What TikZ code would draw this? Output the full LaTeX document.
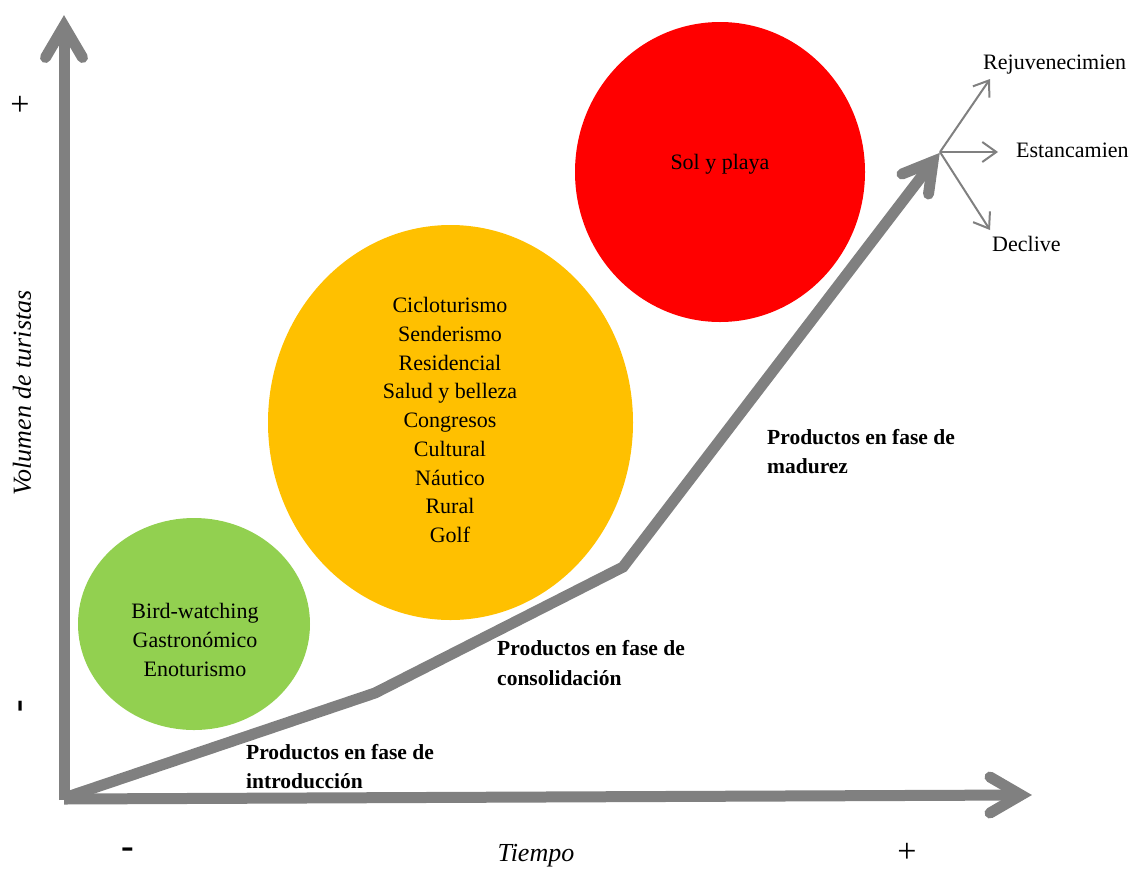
\documentclass[tikz,border=0pt]{standalone}
\usepackage{fontspec}
\setmainfont{Liberation Serif}
\usetikzlibrary{arrows.meta,shapes.geometric}
\definecolor{axisgray}{HTML}{808080}
\definecolor{cgreen}{HTML}{92D050}
\definecolor{corange}{HTML}{FFC000}
\definecolor{cred}{HTML}{FF0000}
\begin{document}
\begin{tikzpicture}[x=1pt,y=-1pt,
  shaft/.style={draw=axisgray, line width=11pt, line join=miter, line cap=butt},
  chevron/.style={draw=axisgray, line width=11pt, line join=miter, line cap=round},
  blob/.style={ellipse, draw=none, inner sep=0pt},
  itemtext/.style={align=center, font=\fontsize{22}{28.75}\selectfont, inner sep=0pt},
  phase/.style={anchor=base west, inner sep=0pt, font=\fontsize{21.5}{28}\selectfont\bfseries},
  branch/.style={draw=axisgray, line width=2pt, -{Straight Barb[length=14pt,width=20pt,line width=2pt]}},
  branchtext/.style={anchor=west, inner sep=0pt, font=\fontsize{22}{26}\selectfont},
  axislabel/.style={inner sep=0pt, font=\fontsize{26}{30}\selectfont\itshape},
  sign/.style={inner sep=0pt, font=\fontsize{34}{36}\selectfont},
  dashsign/.style={inner sep=0pt, font=\fontsize{38}{40}\selectfont\bfseries}]
\useasboundingbox (0,0) rectangle (1129,868);

% circles
\node[blob, fill=cgreen, minimum width=232pt, minimum height=212pt] (green) at (194,624) {};
\node[blob, fill=corange, minimum width=365pt, minimum height=395pt] (orange) at (450.5,422.5) {};
\node[blob, fill=cred, minimum width=290pt, minimum height=300pt] (red) at (720,172) {};

\node[itemtext] (gtext) at (195,640) {Bird-watching\\Gastronómico\\Enoturismo};
\node[itemtext] (otext) at (450,420) {Cicloturismo\\Senderismo\\Residencial\\Salud y belleza\\Congresos\\Cultural\\Náutico\\Rural\\Golf};
\node[itemtext] (rtext) at (720,164) {Sol y playa};

% axes
\coordinate (O) at (64,799);
\coordinate (Ybot) at (64,800);
\coordinate (Yv) at (64,26);
\coordinate (Yl) at (45.5,57.5);
\coordinate (Yr) at (82.5,57.5);
\coordinate (Xv) at (1021,795);
\coordinate (Xu) at (990,777);
\coordinate (Xd) at (990,813);
\draw[shaft] (Ybot) -- (Yv);
\draw[chevron] (Yl) -- (Yv) -- (Yr);
\draw[shaft] (O) -- (Xv);
\draw[chevron] (Xu) -- (Xv) -- (Xd);

% growth curve
\coordinate (G0) at (64,798);
\coordinate (G1) at (375,693);
\coordinate (G2) at (623,567);
\coordinate (Gv) at (933,161.5);
\coordinate (Gl) at (902,174);
\coordinate (Gr) at (928.5,194);
\draw[shaft] (G0) -- (G1) -- (G2) -- (Gv);
\draw[chevron] (Gl) -- (Gv) -- (Gr);

% branches
\coordinate (B) at (940,152);
\node[branchtext] (rej) at (983,65) {Rejuvenecimien};
\node[branchtext] (est) at (1016,150) {Estancamien};
\node[branchtext] (dec) at (992,244) {Declive};
\coordinate (Bu) at (990,79);
\coordinate (Bm) at (998,152);
\coordinate (Bd) at (990,230);
\draw[branch] (B) -- (Bu);
\draw[branch] (B) -- (Bm);
\draw[branch] (B) -- (Bd);

% phase labels
\node[phase] (p1a) at (246,759) {Productos en fase de};
\node[phase] (p1b) at (246,788) {introducción};
\node[phase] (p2a) at (497,655) {Productos en fase de};
\node[phase] (p2b) at (497,685) {consolidación};
\node[phase] (p3a) at (767,444) {Productos en fase de};
\node[phase] (p3b) at (767,473) {madurez};

% axis labels and signs
\node[axislabel, rotate=90] (ylab) at (22,393) {Volumen de turistas};
\node[axislabel] (xlab) at (536,856) {Tiempo};
\node[sign] (yplus) at (20,106) {+};
\node[dashsign, rotate=90] (yminus) at (24,706) {-};
\node[dashsign] (xminus) at (128,853) {-};
\node[sign] (xplus) at (907,853) {+};
\end{tikzpicture}
\end{document}
